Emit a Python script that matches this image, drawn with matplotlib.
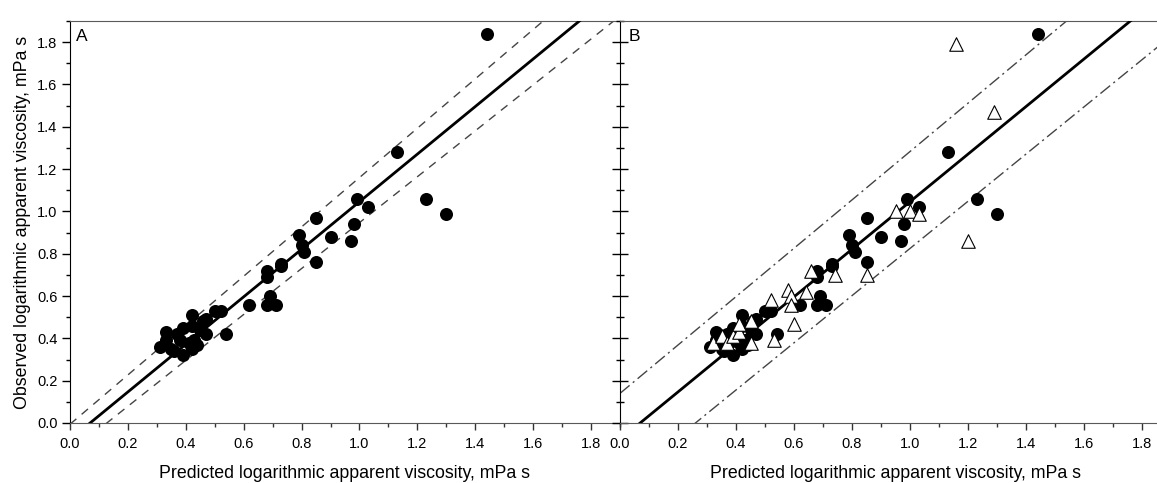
import numpy as np
import matplotlib
matplotlib.use("Agg")
import matplotlib.pyplot as plt
from matplotlib.ticker import MultipleLocator

plt.rcParams['font.family'] = ['Liberation Sans', 'DejaVu Sans']

# Data set 1 (filled circles): predicted vs observed log apparent viscosity
pred_1 = [0.31, 0.33, 0.33, 0.35, 0.36, 0.37, 0.39, 0.38, 0.39, 0.41, 0.42, 0.42,
          0.42, 0.43, 0.44, 0.45, 0.47, 0.47, 0.46, 0.50, 0.52, 0.54,
          0.62, 0.68, 0.68, 0.69, 0.68, 0.71, 0.73, 0.73, 0.79, 0.80, 0.81,
          0.85, 0.85, 0.90, 0.97, 0.98, 0.99, 1.03, 1.13, 1.23, 1.30, 1.44]
obs_1 = [0.36, 0.43, 0.39, 0.35, 0.34, 0.42, 0.45, 0.39, 0.32, 0.38, 0.51, 0.46,
         0.35, 0.39, 0.37, 0.44, 0.42, 0.49, 0.48, 0.53, 0.53, 0.42,
         0.56, 0.72, 0.69, 0.60, 0.56, 0.56, 0.75, 0.74, 0.89, 0.84, 0.81,
         0.97, 0.76, 0.88, 0.86, 0.94, 1.06, 1.02, 1.28, 1.06, 0.99, 1.84]

# Data set 2 (open triangles), panel B only
pred_2 = [0.32, 0.35, 0.37, 0.39, 0.41, 0.41, 0.45, 0.45, 0.53, 0.52, 0.58,
          0.59, 0.59, 0.60, 0.64, 0.66, 0.74, 0.85, 0.95, 1.00, 1.03, 1.20,
          1.29, 1.16]
obs_2 = [0.38, 0.41, 0.38, 0.41, 0.43, 0.47, 0.48, 0.38, 0.39, 0.58, 0.63,
         0.60, 0.56, 0.47, 0.62, 0.72, 0.70, 0.70, 1.00, 1.00, 0.99, 0.86,
         1.47, 1.79]

# Fitted line and bands (slope, intercept)
fit_line = (1.124, -0.078)
conf_upper = (1.166, -0.006)
conf_lower = (1.085, -0.138)
pred_upper = (1.143, 0.14)
pred_lower = (1.115, -0.29)

x_ticks = [0.0, 0.2, 0.4, 0.6, 0.8, 1.0, 1.2, 1.4, 1.6, 1.8]
x_label = "Predicted logarithmic apparent viscosity, mPa s"
y_label = "Observed logarithmic apparent viscosity, mPa s"

W, H = 1157, 483
fig = plt.figure(figsize=(W / 100, H / 100), dpi=100)
axA = fig.add_axes([70 / W, 60 / H, 550 / W, 402 / H])
axB = fig.add_axes([620 / W, 60 / H, 551 / W, 402 / H])

xs = np.linspace(0, 1.9, 200)


def line(coef):
    return coef[0] * xs + coef[1]


spine_grey = '#5a5a5a'
for ax in (axA, axB):
    ax.set_xlim(0, 1.9)
    ax.set_ylim(0, 1.9)
    ax.set_xticks(x_ticks)
    ax.xaxis.set_minor_locator(MultipleLocator(0.1))
    ax.yaxis.set_major_locator(MultipleLocator(0.2))
    ax.yaxis.set_minor_locator(MultipleLocator(0.1))
    ax.tick_params(axis='x', which='major', direction='out', length=5, width=1,
                   labelsize=10.5, pad=5, color='#333333')
    ax.tick_params(axis='x', which='minor', direction='out', length=3, width=1,
                   color='#333333')
    ax.spines['top'].set_color(spine_grey)
    ax.spines['bottom'].set_color(spine_grey)
    ax.spines['left'].set_color('black')
    ax.spines['right'].set_visible(False)
    ax.set_xlabel(x_label, fontsize=12.8, labelpad=10)
    ax.plot(xs, line(fit_line), color='black', lw=2.0, zorder=3)
    ax.scatter(pred_1, obs_1, s=88, color='black', zorder=4, linewidths=0)

# Panel A
axA.plot(xs, line(conf_upper), color='#444444', lw=1.0, ls=(0, (6, 5)), zorder=2)
axA.plot(xs, line(conf_lower), color='#444444', lw=1.0, ls=(0, (6, 5)), zorder=2)
axA.tick_params(axis='y', which='major', direction='out', length=6, width=1,
                labelsize=10.5, pad=3)
axA.tick_params(axis='y', which='minor', direction='out', length=3, width=1)
axA.set_ylabel(y_label, fontsize=12.8, labelpad=4)
axA.text(0.02, 1.86, "A", fontsize=12.5, va='top', ha='left')

# Panel B
axB.plot(xs, line(pred_upper), color='#444444', lw=1.0, ls=(0, (9, 3, 1.5, 3)), zorder=2)
axB.plot(xs, line(pred_lower), color='#444444', lw=1.0, ls=(0, (9, 3, 1.5, 3)), zorder=2)
axB.scatter(pred_2, obs_2, s=95, marker='^', facecolors='white',
            edgecolors='black', linewidths=0.8, zorder=5)
axB.tick_params(axis='y', which='major', direction='inout', length=12, width=1,
                labelleft=False)
axB.tick_params(axis='y', which='minor', direction='inout', length=6, width=1)
axB.text(0.03, 1.86, "B", fontsize=12.5, va='top', ha='left')

fig.savefig("out.png", dpi=100)
